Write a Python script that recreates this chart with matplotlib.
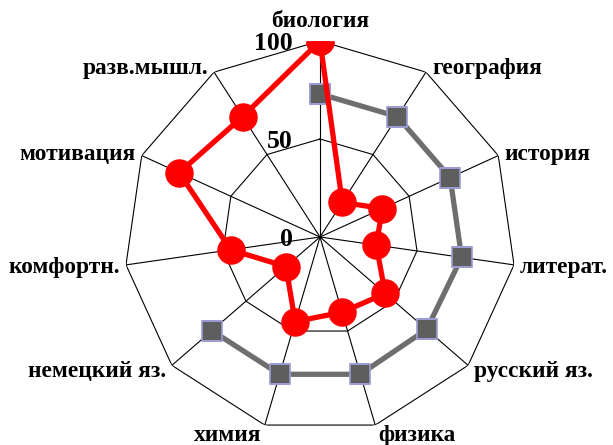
import numpy as np
import matplotlib
matplotlib.use('Agg')
import matplotlib.pyplot as plt

# categories clockwise from the top
categories = ['биология', 'география', 'история', 'литерат.', 'русский яз.',
              'физика', 'химия', 'немецкий яз.', 'комфортн.', 'мотивация',
              'разв.мышл.']
# red series (circles)
red_vals = [100, 21, 35, 29, 44, 40, 45, 23, 46, 79, 73]
# grey series (squares), no values for the last three
grey_vals = [73, 73, 73, 73, 72, 73, 73, 73, np.nan, np.nan, np.nan]
rings = [50, 100]
tick_vals = [0, 50, 100]

plt.rcParams['font.family'] = ['Liberation Serif', 'DejaVu Serif']
plt.rcParams['font.weight'] = 'bold'

fig = plt.figure(figsize=(6.13, 4.45), dpi=100)
R = 196
cx, cy = 320, 237
ax = fig.add_axes([(cx - R) / 613, (445 - cy - R) / 445, 2 * R / 613, 2 * R / 445],
                  projection='polar')
ax.set_theta_zero_location('N')
ax.set_theta_direction(-1)
ax.set_ylim(0, 100)
ax.grid(False)
ax.spines['polar'].set_visible(False)
ax.set_xticks([])
ax.set_yticks([])

n = len(categories)
angles = np.arange(n) * 2 * np.pi / n
closed = np.append(angles, angles[0])

# polygon grid
for r in rings:
    ax.plot(closed, [r] * (n + 1), color='black', lw=0.8, zorder=1)
for a in angles:
    ax.plot([a, a], [0, 100], color='black', lw=0.8, zorder=1)

# series
ax.plot(closed, np.append(grey_vals, grey_vals[0]), color='#6e6e6e', lw=3.8,
        marker='s', markersize=14, markerfacecolor='#5e5e5e',
        markeredgecolor='#9c9cd2', markeredgewidth=1.2, zorder=3)
ax.plot(closed, np.append(red_vals, red_vals[0]), color='#ff0000', lw=3.8,
        marker='o', markersize=19.5, markerfacecolor='#ff0000',
        markeredgecolor='#ff0000', zorder=4)

# category labels
for a, lab in zip(angles, categories):
    s, c = np.sin(a), np.cos(a)
    if abs(s) < 0.1:
        ha, va, off = 'center', 'bottom', (0, 9)
    elif c < -0.9:
        ha = 'left' if s > 0 else 'right'
        va, off = 'top', (3 * np.sign(s), 0)
    else:
        ha = 'left' if s > 0 else 'right'
        va, off = 'center', (6 * np.sign(s), 7 * c - 2)
    ax.annotate(lab, xy=(a, 100), xytext=off, textcoords='offset pixels',
                ha=ha, va=va, fontsize=16.8, fontweight='bold',
                annotation_clip=False)

# radial tick labels
for v in tick_vals:
    ax.annotate(str(v), xy=(0, v), xytext=(-27, -2), textcoords='offset pixels',
                ha='right', va='center', fontsize=18.5, fontweight='bold',
                annotation_clip=False)

fig.savefig('out.png', dpi=100)
